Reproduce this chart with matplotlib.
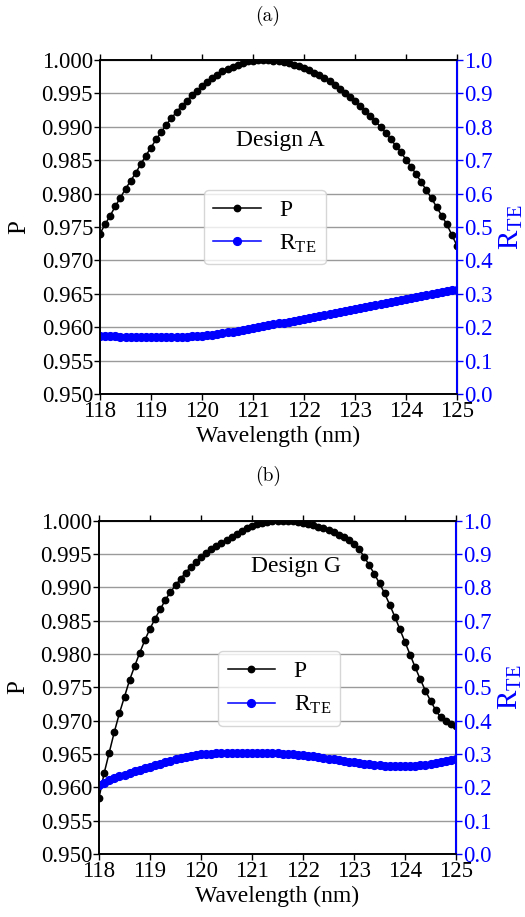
import numpy as np
import matplotlib
matplotlib.use("Agg")
import matplotlib.pyplot as plt

plt.rcParams["font.family"] = ["Liberation Serif", "DejaVu Serif"]
plt.rcParams["mathtext.fontset"] = "custom"
plt.rcParams["mathtext.rm"] = "Liberation Serif"
plt.rcParams["mathtext.it"] = "Liberation Serif:italic"

# Wavelength grid (nm), 0.1 nm step
wavelength = np.linspace(118.0, 125.0, 71)

# Design A
P_A = [0.9740, 0.9754, 0.9767, 0.9781, 0.9794, 0.9807, 0.9819, 0.9831, 0.9844, 0.9857,
       0.9869, 0.9881, 0.9892, 0.9903, 0.9913, 0.9922, 0.9931, 0.9939, 0.9947, 0.9954,
       0.9961, 0.9967, 0.9973, 0.9978, 0.9983, 0.9987, 0.9990, 0.9993, 0.9996, 0.9998,
       0.9999, 1.0000, 1.0000, 1.0000, 0.9999, 0.9998, 0.9997, 0.9995, 0.9993, 0.9991,
       0.9988, 0.9985, 0.9981, 0.9977, 0.9973, 0.9968, 0.9963, 0.9957, 0.9951, 0.9945,
       0.9938, 0.9931, 0.9924, 0.9916, 0.9908, 0.9900, 0.9891, 0.9881, 0.9872, 0.9862,
       0.9851, 0.9840, 0.9829, 0.9817, 0.9805, 0.9793, 0.9780, 0.9767, 0.9754, 0.9738, 0.9722]
R_A = [0.174, 0.1735, 0.173, 0.1725, 0.172, 0.1715, 0.171, 0.1705, 0.170, 0.170,
       0.170, 0.170, 0.170, 0.170, 0.1703, 0.1707, 0.1712, 0.1718, 0.1725, 0.1733,
       0.1743, 0.1755, 0.1775, 0.1797, 0.182, 0.1843, 0.1866, 0.189, 0.1915, 0.194,
       0.1967, 0.1995, 0.2025, 0.2055, 0.2085, 0.2113, 0.214, 0.2167, 0.2193, 0.222,
       0.2248, 0.2277, 0.2306, 0.2336, 0.2365, 0.2395, 0.2425, 0.2455, 0.2484, 0.2514,
       0.2544, 0.2573, 0.2603, 0.2633, 0.2663, 0.2693, 0.2723, 0.2753, 0.2783, 0.2812,
       0.2842, 0.2872, 0.2901, 0.2930, 0.2960, 0.2989, 0.3018, 0.3047, 0.3075, 0.3100, 0.3125]

# Design G
P_G = [0.9584, 0.9621, 0.9652, 0.9683, 0.9711, 0.9736, 0.9761, 0.9782, 0.9802, 0.9821,
       0.9838, 0.9853, 0.9867, 0.9881, 0.9893, 0.9903, 0.9913, 0.9922, 0.9931, 0.9938,
       0.9946, 0.9952, 0.9957, 0.9962, 0.9967, 0.9971, 0.9976, 0.9980, 0.9985, 0.9989,
       0.9992, 0.9995, 0.9997, 0.9998, 0.9999, 1.0000, 1.0000, 1.0000, 0.9999, 0.9998,
       0.9997, 0.9995, 0.9993, 0.9991, 0.9989, 0.9986, 0.9983, 0.9979, 0.9975, 0.9971,
       0.9965, 0.9957, 0.9946, 0.9933, 0.9920, 0.9906, 0.9891, 0.9874, 0.9856, 0.9837,
       0.9818, 0.9799, 0.9780, 0.9762, 0.9745, 0.9730, 0.9716, 0.9705, 0.9699, 0.9695, 0.9692]
R_G = [0.207, 0.2135, 0.221, 0.227, 0.233, 0.238, 0.243, 0.248, 0.2525, 0.257,
       0.262, 0.2665, 0.271, 0.2755, 0.280, 0.284, 0.2877, 0.291, 0.294, 0.2968,
       0.299, 0.300, 0.301, 0.302, 0.3028, 0.3035, 0.304, 0.304, 0.3042, 0.3042,
       0.304, 0.3037, 0.3033, 0.303, 0.3024, 0.3017, 0.301, 0.300, 0.2988, 0.2975,
       0.2965, 0.295, 0.2935, 0.2915, 0.289, 0.2865, 0.284, 0.282, 0.2795, 0.2775,
       0.2755, 0.2735, 0.2715, 0.2695, 0.268, 0.2665, 0.2655, 0.265, 0.2645, 0.2645,
       0.2645, 0.2648, 0.2655, 0.2668, 0.2685, 0.2705, 0.273, 0.2755, 0.2785, 0.2812, 0.284]

x_ticks = [118, 119, 120, 121, 122, 123, 124, 125]
p_ticks = [0.950, 0.955, 0.960, 0.965, 0.970, 0.975, 0.980, 0.985, 0.990, 0.995, 1.000]
r_ticks = [0.0, 0.1, 0.2, 0.3, 0.4, 0.5, 0.6, 0.7, 0.8, 0.9, 1.0]

panels = [
    dict(P=P_A, R=R_A, name="Design A", tag="(a)", text_xy=(121.53, 0.9880),
         rect=[100 / 525, (917 - 394) / 917, 357 / 525, 334 / 917],
         leg=(0.291, 0.611), tag_y=1 - 16 / 917),
    dict(P=P_G, R=R_G, name="Design G", tag="(b)", text_xy=(121.86, 0.9931),
         rect=[99 / 525, (917 - 854) / 917, 357 / 525, 333.3 / 917],
         leg=(0.334, 0.609), tag_y=1 - 476 / 917),
]

FS = 16.5
fig = plt.figure(figsize=(5.25, 9.17), dpi=100)

for pn in panels:
    ax = fig.add_axes(pn["rect"])
    axr = ax.twinx()

    l1, = ax.plot(wavelength, pn["P"], "-o", color="black", lw=1.1, ms=4.6, label="P")
    l2, = axr.plot(wavelength, pn["R"], "-o", color="blue", lw=1.1, ms=5.6,
                   label=r"R$_{\mathrm{TE}}$")

    ax.set_xlim(118, 125)
    ax.set_ylim(0.950, 1.000)
    axr.set_ylim(0.0, 1.0)
    ax.set_xticks(x_ticks)
    ax.set_yticks(p_ticks)
    ax.set_yticklabels([f"{v:.3f}" for v in p_ticks])
    axr.set_yticks(r_ticks)
    axr.set_yticklabels([f"{v:.1f}" for v in r_ticks])

    ax.grid(axis="y", color="#9a9a9a", lw=1.0)
    ax.set_axisbelow(True)

    ax.tick_params(axis="both", labelsize=FS, direction="out", width=1.0, length=4,
                   top=True, pad=1)
    axr.tick_params(axis="y", labelsize=FS, colors="blue", direction="out", width=1.0,
                    length=4, pad=1)
    for s in ["left", "top", "bottom"]:
        ax.spines[s].set_linewidth(1.2)
    axr.spines["right"].set_color("blue")
    axr.spines["right"].set_linewidth(1.5)
    for s in ["left", "top", "bottom"]:
        axr.spines[s].set_linewidth(1.2)

    ax.set_xlabel("Wavelength (nm)", fontsize=17, labelpad=3)
    ax.set_ylabel("P", fontsize=18, labelpad=8)
    axr.set_ylabel(r"R$_{\mathrm{TE}}$", fontsize=21, color="blue", labelpad=4)

    ax.text(*pn["text_xy"], pn["name"], fontsize=17, ha="center", va="center")

    axr.legend([l1, l2], ["P", r"R$_{\mathrm{TE}}$"], loc="upper left",
               bbox_to_anchor=pn["leg"], borderaxespad=0, fontsize=17,
               handlelength=2.0, framealpha=0.8, edgecolor="#cccccc")

    fig.text(0.51, pn["tag_y"], pn["tag"], fontsize=14, family="cmr10",
             ha="center", va="center")

fig.savefig("out.png", dpi=100)
